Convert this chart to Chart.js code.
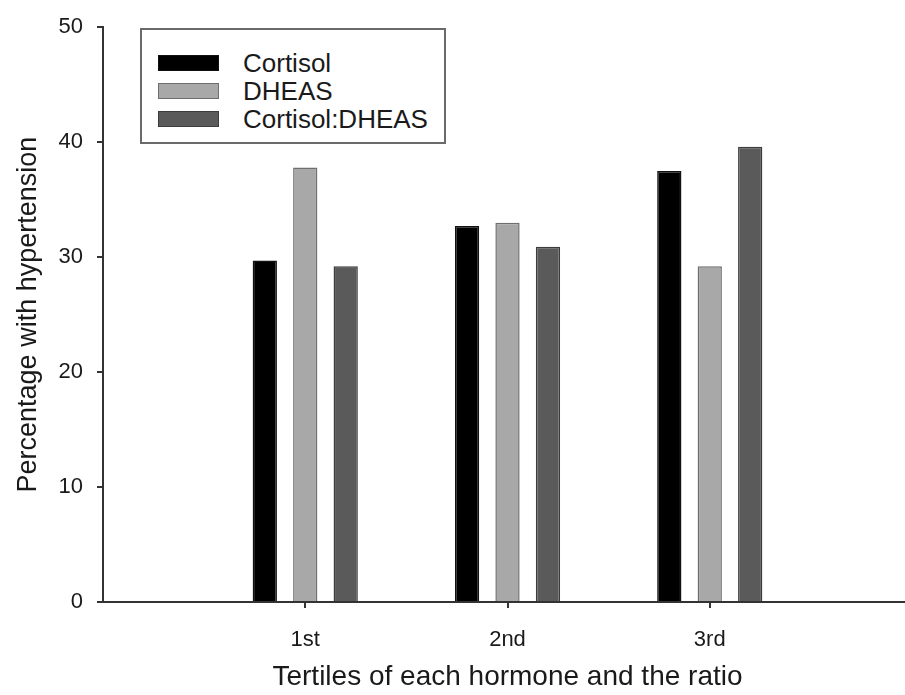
<!DOCTYPE html>
<html>
<head>
<meta charset="utf-8">
<script src="https://cdn.jsdelivr.net/npm/chart.js@4.4.1/dist/chart.umd.min.js"></script>
<style>
  html, body { margin: 0; padding: 0; background: #fff; overflow: hidden; }
  #wrap { position: relative; width: 931px; height: 695px; }
  #legend {
    position: absolute; left: 140px; top: 28px; width: 306px; height: 116px;
    border: 2px solid #6a6a6a; box-sizing: border-box; background: #fff;
    font-family: "Liberation Sans", Arial, sans-serif; font-size: 26px; color: #1a1a1a;
    padding-top: 19px;
  }
  #legend .row { display: flex; align-items: center; height: 28px; }
  #legend .sw { width: 61px; height: 16px; margin-left: 16px; margin-right: 24px; box-sizing: border-box; border: 1.5px solid; }
</style>
</head>
<body>
<div id="wrap">
  <canvas id="chart" width="931" height="695"></canvas>
  <div id="legend"></div>
</div>
<script>
// tertiles (empty slots at both ends keep the groups where the original axis had them)
const tertiles = ['', '1st', '2nd', '3rd', ''];
const seriesNames = ['Cortisol', 'DHEAS', 'Cortisol:DHEAS'];
const cortisol = [null, 29.7, 32.7, 37.5, null];
const dheas = [null, 37.8, 33.0, 29.2, null];
const cortisolDheas = [null, 29.2, 30.9, 39.6, null];
const yTicks = [0, 10, 20, 30, 40, 50];

const fills = ['#000000', '#a8a8a8', '#5a5a5a'];
const edges = ['#111111', '#6e6e6e', '#3c3c3c'];
const font = 'Liberation Sans, Arial, sans-serif';
const axisColor = '#333333';

const seriesValues = [cortisol, dheas, cortisolDheas];

const datasets = seriesNames.map((name, i) => ({
    label: name,
    data: seriesValues[i],
    backgroundColor: fills[i],
    borderColor: edges[i],
    borderWidth: 1.5,
    categoryPercentage: 0.6,
    barPercentage: 0.6
}));

// legend (html, boxed like the original)
const legendBox = document.getElementById('legend');
seriesNames.forEach((name, i) => {
    const row = document.createElement('div');
    row.className = 'row';
    row.innerHTML = `<span class="sw" style="background:${fills[i]};border-color:${edges[i]}"></span><span>${name}</span>`;
    legendBox.appendChild(row);
});

new Chart(document.getElementById('chart'), {
    type: 'bar',
    data: { labels: tertiles, datasets: datasets },
    options: {
        responsive: false,
        animation: false,
        layout: { padding: { top: 24, right: 0, left: 0, bottom: 0 } },
        plugins: {
            legend: { display: false },
            tooltip: { enabled: false }
        },
        scales: {
            x: {
                offset: false,
                grid: {
                    offset: false,
                    drawOnChartArea: false,
                    drawTicks: true,
                    tickLength: 6,
                    lineWidth: 2,
                    color: ctx => (ctx.tick && ctx.tick.label) ? axisColor : 'rgba(0,0,0,0)'
                },
                border: { display: true, color: axisColor, width: 2 },
                ticks: {
                    color: '#1a1a1a',
                    padding: 19,
                    autoSkip: false,
                    maxRotation: 0,
                    font: { family: font, size: 22 }
                },
                title: {
                    display: true,
                    text: 'Tertiles of each hormone and the ratio',
                    color: '#1a1a1a',
                    padding: { top: 3, bottom: 1 },
                    font: { family: font, size: 28 }
                },
                afterFit: s => { s.height = 93; }
            },
            y: {
                min: 0,
                max: 50,
                afterBuildTicks: s => { s.ticks = yTicks.map(v => ({ value: v })); },
                grid: {
                    drawOnChartArea: false,
                    drawTicks: true,
                    tickLength: 6,
                    lineWidth: 2,
                    color: axisColor
                },
                border: { display: true, color: axisColor, width: 2 },
                ticks: {
                    color: '#1a1a1a',
                    padding: 14,
                    font: { family: font, size: 22 }
                },
                title: {
                    display: true,
                    text: 'Percentage with hypertension',
                    color: '#1a1a1a',
                    padding: { top: 12, bottom: 12 },
                    font: { family: font, size: 27 }
                },
                afterFit: s => { s.width = 103; }
            }
        }
    }
});
</script>
</body>
</html>
